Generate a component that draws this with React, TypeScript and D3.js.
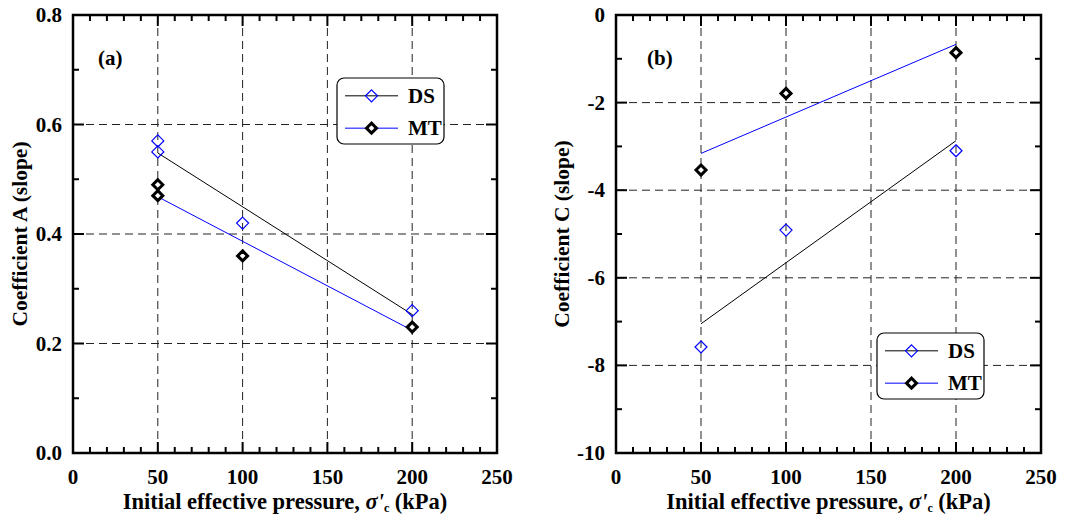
import React from "react";
import * as d3 from "d3";

// ---- data ----
const xTicks = [0, 50, 100, 150, 200, 250];
const fitX = [50, 200];

// Panel (a)
const pressureA = [50, 50, 100, 200];
const dsA = [0.57, 0.55, 0.42, 0.26];
const mtA = [0.49, 0.47, 0.36, 0.23];
const fitDsA = [0.548, 0.253];
const fitMtA = [0.468, 0.224];
const yTicksA = [0, 0.2, 0.4, 0.6, 0.8];
const yGridA = [0.2, 0.4, 0.6];

// Panel (b)
const pressureB = [50, 100, 200];
const dsC = [-7.58, -4.91, -3.1];
const mtC = [-3.54, -1.79, -0.86];
const fitDsC = [-7.05, -2.87];
const fitMtC = [-3.16, -0.67];
const yTicksB = [-10, -8, -6, -4, -2, 0];
const yGridB = [-8, -6, -4, -2];

const seriesNames = ["DS", "MT"];

const FONT = "'Liberation Serif', 'Times New Roman', serif";
const BLUE = "#0000ff";

function diamond(cx: number, cy: number, r: number) {
  return `M${cx},${cy - r}L${cx + r},${cy}L${cx},${cy + r}L${cx - r},${cy}Z`;
}

function DSMarker({ x, y }: { x: number; y: number }) {
  return <path d={diamond(x, y, 6)} fill="none" stroke={BLUE} strokeWidth={1.2} />;
}
function MTMarker({ x, y }: { x: number; y: number }) {
  return <path d={diamond(x, y, 5)} fill="white" stroke="black" strokeWidth={3} />;
}

type PanelProps = {
  left: number;
  right: number;
  top: number;
  bottom: number;
  yDomain: [number, number];
  yTicks: number[];
  yMinorStep: number;
  yGrid: number[];
  yFmt: (v: number) => string;
  xs: number[];
  ds: number[];
  mt: number[];
  fitDs: number[];
  fitMt: number[];
  tag: string;
  tagX: number;
  yTitle: string;
  yTitleX: number;
  legend: { x: number; y: number; w: number; h: number };
};

function Panel(p: PanelProps) {
  const x = d3.scaleLinear().domain([0, 250]).range([p.left, p.right]);
  const y = d3.scaleLinear().domain(p.yDomain).range([p.bottom, p.top]);
  const xMinor = d3.range(0, 250.001, 10);
  const yMinor = d3.range(p.yDomain[0], p.yDomain[1] + 1e-6, p.yMinorStep);
  const line = d3
    .line<number>()
    .x((_, i) => x(fitX[i]))
    .y((d) => y(d));
  const dash = "8,5";
  const lg = p.legend;
  const row1 = lg.y + lg.h * 0.27;
  const row2 = lg.y + lg.h * 0.76;
  const lx0 = lg.x + 8;
  const lx1 = lg.x + 61;
  const lmx = (lx0 + lx1) / 2;
  return (
    <g>
      {/* grid */}
      {[50, 100, 150, 200].map((v) => (
        <line key={"gx" + v} x1={x(v)} x2={x(v)} y1={p.top} y2={p.bottom} stroke="#222" strokeWidth={1} strokeDasharray={dash} />
      ))}
      {p.yGrid.map((v) => (
        <line key={"gy" + v} x1={p.left} x2={p.right} y1={y(v)} y2={y(v)} stroke="#222" strokeWidth={1} strokeDasharray={dash} />
      ))}
      {/* fits */}
      <path d={line(p.fitDs) || ""} fill="none" stroke="black" strokeWidth={1} />
      <path d={line(p.fitMt) || ""} fill="none" stroke={BLUE} strokeWidth={1} />
      {/* markers */}
      {p.ds.map((v, i) => (
        <DSMarker key={"ds" + i} x={x(p.xs[i])} y={y(v)} />
      ))}
      {p.mt.map((v, i) => (
        <MTMarker key={"mt" + i} x={x(p.xs[i])} y={y(v)} />
      ))}
      {/* ticks */}
      {xMinor.map((v) => {
        const major = v % 50 === 0;
        const L = major ? 11 : 6;
        return (
          <g key={"xt" + v}>
            <line x1={x(v)} x2={x(v)} y1={p.bottom} y2={p.bottom - L} stroke="black" strokeWidth={2} />
            <line x1={x(v)} x2={x(v)} y1={p.top} y2={p.top + L} stroke="black" strokeWidth={2} />
          </g>
        );
      })}
      {yMinor.map((v, i) => {
        const major = i % 2 === 0;
        const L = major ? 11 : 6;
        return (
          <g key={"yt" + i}>
            <line x1={p.left} x2={p.left + L} y1={y(v)} y2={y(v)} stroke="black" strokeWidth={2} />
            <line x1={p.right} x2={p.right - L} y1={y(v)} y2={y(v)} stroke="black" strokeWidth={2} />
          </g>
        );
      })}
      {/* frame */}
      <rect x={p.left} y={p.top} width={p.right - p.left} height={p.bottom - p.top} fill="none" stroke="black" strokeWidth={2.5} />
      {/* tick labels */}
      {xTicks.map((v) => (
        <text key={"xl" + v} x={x(v)} y={p.bottom + 31} textAnchor="middle" fontSize={21} fontWeight="bold" fontFamily={FONT}>
          {v}
        </text>
      ))}
      {p.yTicks.map((v) => (
        <text key={"yl" + v} x={p.left - 11} y={y(v) + 7} textAnchor="end" fontSize={21} fontWeight="bold" fontFamily={FONT}>
          {p.yFmt(v)}
        </text>
      ))}
      {/* titles */}
      <text x={(p.left + p.right) / 2} y={509} textAnchor="middle" fontSize={22.5} fontWeight="bold" fontFamily={FONT}>
        Initial effective pressure,{" "}
        <tspan fontStyle="italic">σ'</tspan>
        <tspan fontSize={12} dy={3}>c</tspan>
        <tspan dy={-3}> (kPa)</tspan>
      </text>
      <text
        transform={`translate(${p.yTitleX},${(p.top + p.bottom) / 2}) rotate(-90)`}
        textAnchor="middle"
        fontSize={21.5}
        fontWeight="bold"
        fontFamily={FONT}
      >
        {p.yTitle}
      </text>
      <text x={p.tagX} y={65} fontSize={21} fontWeight="bold" fontFamily={FONT}>
        {p.tag}
      </text>
      {/* legend */}
      <rect x={lg.x} y={lg.y} width={lg.w} height={lg.h} rx={7} fill="white" stroke="black" strokeWidth={1.2} />
      <line x1={lx0} x2={lx1} y1={row1} y2={row1} stroke="black" strokeWidth={1} />
      <DSMarker x={lmx} y={row1} />
      <text x={lg.x + 71} y={row1 + 7} fontSize={21} fontWeight="bold" fontFamily={FONT}>
        {seriesNames[0]}
      </text>
      <line x1={lx0} x2={lx1} y1={row2} y2={row2} stroke={BLUE} strokeWidth={1} />
      <MTMarker x={lmx} y={row2} />
      <text x={lg.x + 71} y={row2 + 7} fontSize={21} fontWeight="bold" fontFamily={FONT}>
        {seriesNames[1]}
      </text>
    </g>
  );
}

export default function App() {
  return (
    <svg
      width={1075}
      height={517}
      style={{ position: "absolute", left: 0, top: 0, background: "white" }}
    >
      <rect width={1075} height={517} fill="white" />
      <Panel
        left={73}
        right={497}
        top={15}
        bottom={453}
        yDomain={[0, 0.8]}
        yTicks={yTicksA}
        yMinorStep={0.1}
        yGrid={yGridA}
        yFmt={(v) => v.toFixed(1)}
        xs={pressureA}
        ds={dsA}
        mt={mtA}
        fitDs={fitDsA}
        fitMt={fitMtA}
        tag="(a)"
        tagX={98}
        yTitle="Coefficient A (slope)"
        yTitleX={27}
        legend={{ x: 337, y: 78, w: 107, h: 66 }}
      />
      <Panel
        left={616}
        right={1041}
        top={15}
        bottom={453}
        yDomain={[-10, 0]}
        yTicks={yTicksB}
        yMinorStep={1}
        yGrid={yGridB}
        yFmt={(v) => String(v)}
        xs={pressureB}
        ds={dsC}
        mt={mtC}
        fitDs={fitDsC}
        fitMt={fitMtC}
        tag="(b)"
        tagX={647}
        yTitle="Coefficient C (slope)"
        yTitleX={569}
        legend={{ x: 877, y: 333, w: 107, h: 66 }}
      />
    </svg>
  );
}
